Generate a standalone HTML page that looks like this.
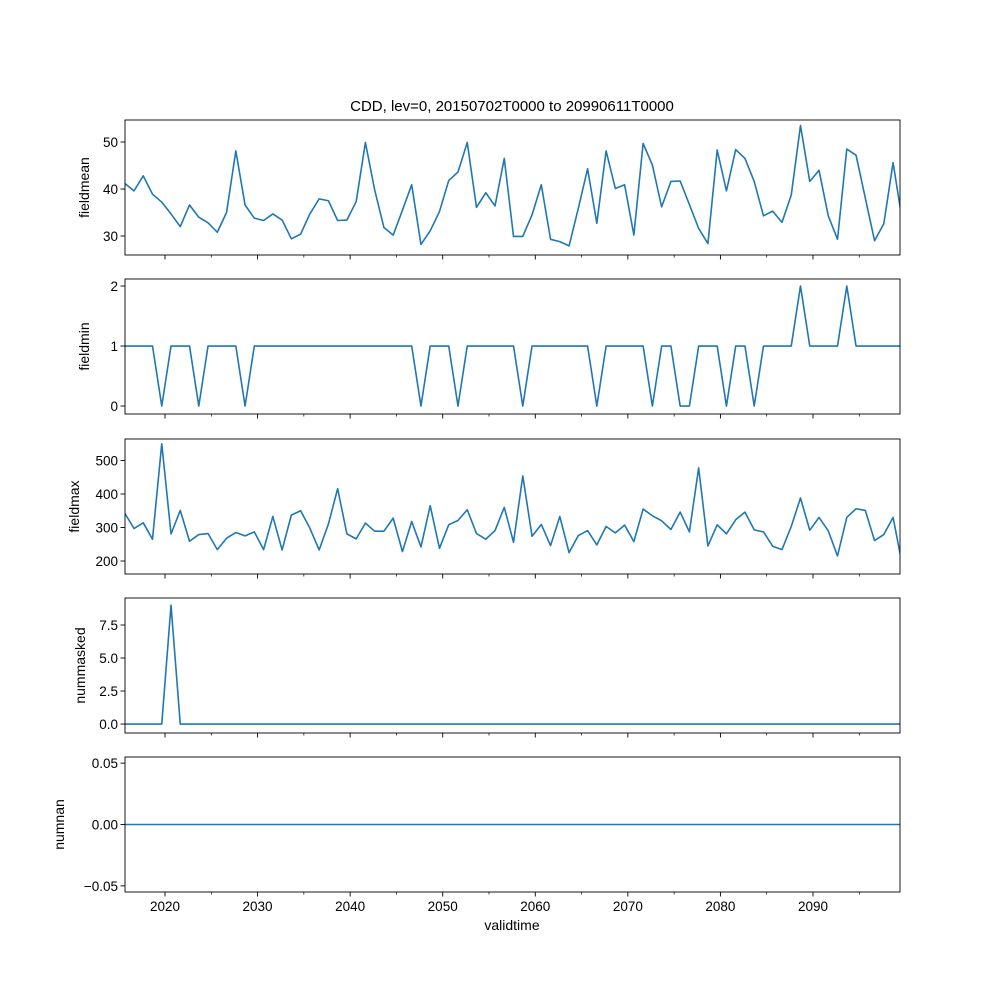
<!DOCTYPE html>
<html><head><meta charset="utf-8"><style>
html,body{margin:0;padding:0;background:#fff;}
svg{display:block;font-family:"Liberation Sans","DejaVu Sans",sans-serif;}
</style></head><body>
<svg id="chart" width="1000" height="1000" viewBox="0 0 1000 1000" xmlns="http://www.w3.org/2000/svg">
<text x="512" y="111" text-anchor="middle" font-size="15">CDD, lev=0, 20150702T0000 to 20990611T0000</text>
<text x="512" y="930" text-anchor="middle" font-size="14">validtime</text>
</svg>
<script>
const startYear = 2015.65;
const fieldmean = [41.2,39.6,42.8,38.9,37.2,34.7,32.0,36.6,34.0,32.8,30.8,35.0,48.1,36.6,33.8,33.3,34.7,33.4,29.4,30.4,34.7,37.9,37.5,33.3,33.4,37.3,49.9,39.8,31.8,30.2,35.5,40.9,28.2,31.1,35.2,41.8,43.6,49.9,36.1,39.2,36.4,46.5,29.9,29.9,34.5,40.9,29.3,28.8,27.9,35.9,44.3,32.7,48.1,40.1,40.9,30.2,49.7,45.1,36.2,41.6,41.7,36.7,31.6,28.4,48.3,39.6,48.4,46.5,41.6,34.3,35.3,32.9,38.7,53.5,41.6,44.0,34.3,29.3,48.5,47.2,38.1,29.0,32.6,45.6,33.2];
const fieldmin = [1,1,1,1,0,1,1,1,0,1,1,1,1,0,1,1,1,1,1,1,1,1,1,1,1,1,1,1,1,1,1,1,0,1,1,1,0,1,1,1,1,1,1,0,1,1,1,1,1,1,1,0,1,1,1,1,1,0,1,1,0,0,1,1,1,0,1,1,0,1,1,1,1,2,1,1,1,1,2,1,1,1,1,1,1];
const fieldmax = [343,297,314,265,550,281,351,259,279,282,234,268,285,275,287,234,333,233,337,350,298,233,310,416,281,266,313,289,289,328,228,318,242,365,238,308,321,353,282,265,291,360,256,454,274,309,246,333,225,276,291,248,303,284,307,258,355,335,320,294,346,287,478,245,308,281,323,346,293,287,244,234,303,388,292,330,290,215,330,356,351,261,279,330,188];
const nummasked = [0,0,0,0,0,9,0,0,0,0,0,0,0,0,0,0,0,0,0,0,0,0,0,0,0,0,0,0,0,0,0,0,0,0,0,0,0,0,0,0,0,0,0,0,0,0,0,0,0,0,0,0,0,0,0,0,0,0,0,0,0,0,0,0,0,0,0,0,0,0,0,0,0,0,0,0,0,0,0,0,0,0,0,0,0];
const numnan = [0,0,0,0,0,0,0,0,0,0,0,0,0,0,0,0,0,0,0,0,0,0,0,0,0,0,0,0,0,0,0,0,0,0,0,0,0,0,0,0,0,0,0,0,0,0,0,0,0,0,0,0,0,0,0,0,0,0,0,0,0,0,0,0,0,0,0,0,0,0,0,0,0,0,0,0,0,0,0,0,0,0,0,0,0];
const xMajorTicks = [2020,2030,2040,2050,2060,2070,2080,2090];
const xMinorTicks = [2025,2035,2045,2055,2065,2075,2085,2095];
const meanTicks = ["30","40","50"];
const minTicks = ["0","1","2"];
const maxTicks = ["200","300","400","500"];
const maskedTicks = ["0.0","2.5","5.0","7.5"];
const nanTicks = ["-0.05","0.00","0.05"];

const NS="http://www.w3.org/2000/svg";
const svg=document.getElementById('chart');
const X0=125, X1=900;
function xScale(yr){return 165+(yr-2020)*9.257;}
function mk(tag,attrs,parent){const e=document.createElementNS(NS,tag);for(const k in attrs)e.setAttribute(k,attrs[k]);(parent||svg).appendChild(e);return e;}

const panels=[
 {name:'fieldmean',data:fieldmean,top:120,bot:255,vmin:25.96,vmax:54.68,ticks:meanTicks},
 {name:'fieldmin',data:fieldmin,top:279,bot:414,vmin:-0.133,vmax:2.117,ticks:minTicks},
 {name:'fieldmax',data:fieldmax,top:439,bot:574,vmin:161.2,vmax:564.2,ticks:maxTicks},
 {name:'nummasked',data:nummasked,top:598,bot:733,vmin:-0.68,vmax:9.545,ticks:maskedTicks},
 {name:'numnan',data:numnan,top:757,bot:892,vmin:-0.055,vmax:0.055,ticks:nanTicks}
];
panels.forEach((p,pi)=>{
 const g=mk('g',{});
 
 
 const y=v=>p.bot-(v-p.vmin)/(p.vmax-p.vmin)*(p.bot-p.top);
 const clipId='clip'+pi;
 const cp=mk('clipPath',{id:clipId},g);
 mk('rect',{x:X0,y:p.top,width:X1-X0,height:p.bot-p.top},cp);
 const pts=p.data.map((v,i)=>xScale(startYear+i).toFixed(2)+','+y(v).toFixed(2)).join(' ');
 const line=mk('polyline',{points:pts,fill:'none',stroke:'#1f77b4','stroke-width':1.6,'clip-path':'url(#'+clipId+')','stroke-linejoin':'round'},g);
 
 
 const fr=mk('rect',{x:X0,y:p.top,width:X1-X0,height:p.bot-p.top,fill:'none',stroke:'#000','stroke-width':0.9},g);
 
 
 xMajorTicks.forEach(t=>{const xx=xScale(t);mk('line',{x1:xx,x2:xx,y1:p.bot,y2:p.bot+4.5,stroke:'#000','stroke-width':0.9},g);
  if(pi===4){const tx=mk('text',{x:xx,y:p.bot+19,'text-anchor':'middle','font-size':13.5},g);tx.textContent=t;
   
   }});
 xMinorTicks.forEach(t=>{const xx=xScale(t);if(xx<=X1)mk('line',{x1:xx,x2:xx,y1:p.bot,y2:p.bot+2.5,stroke:'#000','stroke-width':0.7},g);});
 p.ticks.forEach(t=>{const yy=y(parseFloat(t));mk('line',{x1:X0-4.5,x2:X0,y1:yy,y2:yy,stroke:'#000','stroke-width':0.9},g);
  const tx=mk('text',{x:X0-7,y:yy+5,'text-anchor':'end','font-size':13.5},g);tx.textContent=t.replace('-','\u2212');
  
  });
 const lx=pi===4?64:(pi===3?85:(pi===2?79:89));
 const cy=(p.top+p.bot)/2;
 const lab=mk('text',{x:lx,y:cy,'text-anchor':'middle','font-size':14,transform:'rotate(-90 '+lx+' '+cy+')'},g);
 lab.textContent=p.name;
 
 
});
</script>
</body></html>
